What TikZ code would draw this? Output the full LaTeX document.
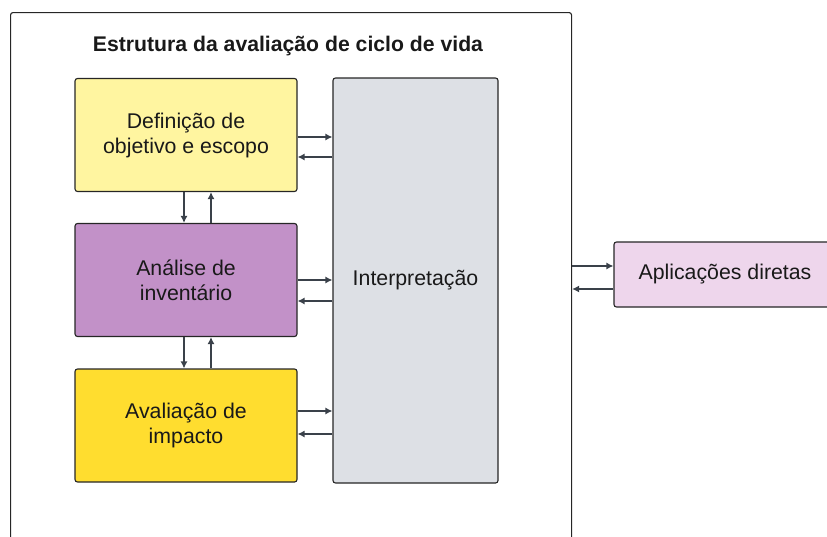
\documentclass[tikz,border=0pt]{standalone}
\usepackage{fontspec}
\setmainfont{Liberation Sans}
\usetikzlibrary{arrows.meta, positioning}
\definecolor{goalyellow}{RGB}{255, 245, 160}
\definecolor{invpurple}{RGB}{194, 145, 200}
\definecolor{impgold}{RGB}{255, 221, 47}
\definecolor{interpgray}{RGB}{221, 224, 229}
\definecolor{apppink}{RGB}{238, 214, 236}
\definecolor{linegray}{RGB}{58, 65, 74}

\begin{document}
\begin{tikzpicture}[x=1pt, y=-1pt,
  stage/.style={draw=black!85, line width=1.1pt, rounded corners=2.5pt,
    minimum width=222pt, minimum height=113pt, align=center,
    font=\fontsize{21.3}{25}\selectfont, text=black!90},
  flow/.style={draw=linegray, line width=1.3pt, -{Latex[length=7pt, width=7pt]}}]
  \useasboundingbox (0,0) rectangle (827,536);

  % Outer frame and title
  \node[draw=black!85, line width=1.1pt, rounded corners=2.5pt, anchor=north west,
    minimum width=561pt, minimum height=600pt] (frame) at (10,12) {};
  \node[font=\bfseries\fontsize{21.2}{25}\selectfont, text=black!90] (title) at (288,46)
    {Estrutura da avaliação de ciclo de vida};

  % Phases
  \node[stage, fill=goalyellow] (def) at (186,135) {Definição de\\objetivo e escopo};
  \node[stage, fill=invpurple] (inv) at (186,280) {Análise de\\inventário};
  \node[stage, fill=impgold] (imp) at (186,425.5) {Avaliação de\\impacto};
  \node[stage, fill=interpgray, minimum width=165pt, minimum height=405pt] (interp)
    at (415.5,280.5) {Interpretação};
  \node[stage, fill=apppink, minimum height=65pt] (app) at (725,274.5) {Aplicações diretas};

  % Links to the interpretation
  \foreach \src/\ya/\yb in {def/137/157, inv/280/301, imp/411/434} {
    \draw[flow] (\src.east |- 0,\ya) -- (interp.west |- 0,\ya);
    \draw[flow] (interp.west |- 0,\yb) -- (\src.east |- 0,\yb);
  }

  % Links between phases
  \foreach \up/\down in {def/inv, inv/imp} {
    \draw[flow] (\up.south -| 184,0) -- (\down.north -| 184,0);
    \draw[flow] (\down.north -| 211,0) -- (\up.south -| 211,0);
  }

  % Applications
  \draw[flow] (frame.east |- 0,266) -- (app.west |- 0,266);
  \draw[flow] (app.west |- 0,289) -- (frame.east |- 0,289);
\end{tikzpicture}
\end{document}
